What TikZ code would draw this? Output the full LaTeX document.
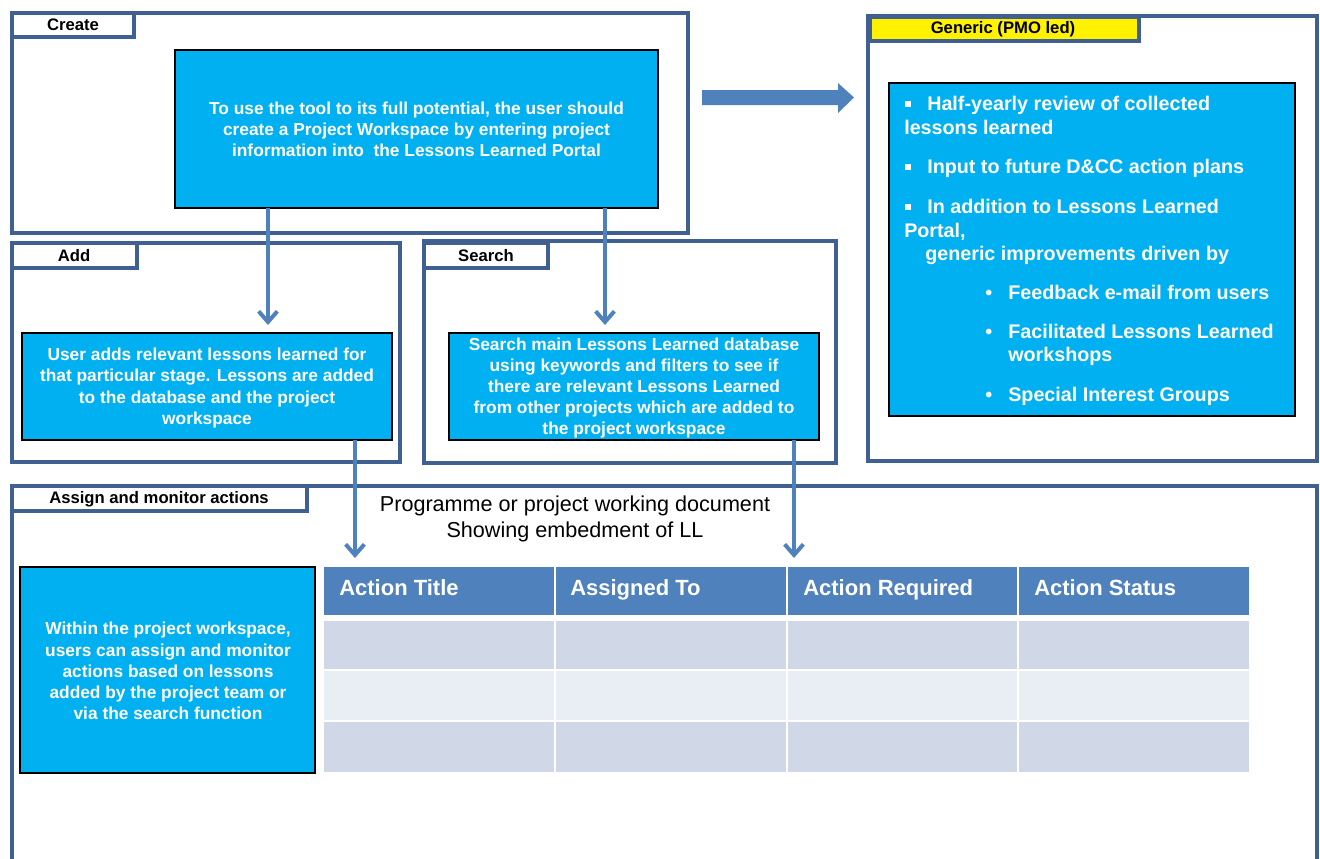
\documentclass[tikz,border=0pt]{standalone}
\usepackage{fontspec}
\setmainfont{Liberation Sans}
\usetikzlibrary{arrows.meta}
\definecolor{frame}{HTML}{3F6090}
\definecolor{cyanbox}{HTML}{00B0F0}
\definecolor{arrowc}{HTML}{4F81BD}
\definecolor{hdr}{HTML}{4F81BD}
\definecolor{rowa}{HTML}{D0D8E8}
\definecolor{rowb}{HTML}{E9EDF4}
\begin{document}
\begin{tikzpicture}[x=0.75pt,y=-0.75pt,
  framebox/.style={draw=frame,line width=2.5pt},
  tabbox/.style={draw=frame,line width=2.5pt,fill=white},
  tablabel/.style={font=\bfseries\fontsize{12.5}{14}\selectfont,text=black},
  bluebox/.style={draw=black,line width=1.3pt,fill=cyanbox},
  bluetext/.style={font=\bfseries\fontsize{13}{15.9}\selectfont,text=white,align=center},
  gentext/.style={font=\bfseries\fontsize{14.8}{17}\selectfont,text=white,anchor=base west,inner sep=0pt},
  sqbullet/.style={fill=white,minimum size=3.8pt,inner sep=0pt},
  flow/.style={draw=arrowc,line width=3pt,-{Straight Barb[length=8pt,width=14pt,line width=3pt]}},
  hdrtext/.style={font=\bfseries\fontsize{16.5}{18}\selectfont,text=white,anchor=base west,inner sep=0pt}
]
\useasboundingbox (0,0) rectangle (1320,858);

% ---------- Create ----------
\draw[framebox] (12,13) rectangle (688,233);
\draw[tabbox] (12,13) rectangle (134,37);
\node[tablabel] (tcreate) at (73,25) {Create};
\draw[bluebox] (175,50) rectangle (658,208);
\node[bluetext] (create) at (416.5,129.5) {To use the tool to its full potential, the user should\\create a Project Workspace by entering project\\information into \ the Lessons Learned Portal};
\coordinate (createA) at (268,208);
\coordinate (createB) at (605,208);

% ---------- Add ----------
\draw[framebox] (12,243) rectangle (400,462);
\draw[tabbox] (12,243) rectangle (137,268);
\node[tablabel] (tadd) at (74,256) {Add};
\draw[bluebox] (22,333) rectangle (392,440);
\node[bluetext] (add) at (207,388) {User adds relevant lessons learned for\\that particular stage. Lessons are added\\to the database and the project\\workspace};
\coordinate (addIn) at (268,325);
\coordinate (addOut) at (355,440);

% ---------- Search ----------
\draw[framebox] (424,241) rectangle (836,463);
\draw[tabbox] (424,243) rectangle (548,268);
\node[tablabel] (tsearch) at (486,256) {Search};
\draw[bluebox] (449,333) rectangle (819,440);
\node[bluetext] (search) at (634,388) {Search main Lessons Learned database\\using keywords and filters to see if\\there are relevant Lessons Learned\\from other projects which are added to\\the project workspace};
\coordinate (searchIn) at (605,325);
\coordinate (searchOut) at (794,440);

% ---------- Generic ----------
\draw[framebox] (868,16) rectangle (1317,461);
\draw[draw=frame,line width=2.5pt,fill=yellow] (870,17) rectangle (1139,41);
\node[tablabel] (tgen) at (1003,29) {Generic (PMO led)};
\draw[bluebox] (889,83) rectangle (1295,416);
\node[sqbullet] (g1b) at (908,104) {};
\node[gentext] (g1) at (927,110) {Half-yearly review of collected};
\node[gentext] (g1c) at (904,134) {lessons learned};
\node[sqbullet] (g2b) at (908,167) {};
\node[gentext] (g2) at (927,173) {Input to future D\&CC action plans};
\node[sqbullet] (g3b) at (908,207) {};
\node[gentext] (g3) at (927,213) {In addition to Lessons Learned};
\node[gentext] (g3c) at (904,237) {Portal,};
\node[gentext] (g3d) at (925,260) {generic improvements driven by};
\node[gentext] (g4b) at (985,299) {•};
\node[gentext] (g4) at (1008,299) {Feedback e-mail from users};
\node[gentext] (g5b) at (985,338) {•};
\node[gentext] (g5) at (1008,338) {Facilitated Lessons Learned};
\node[gentext] (g5c) at (1008,361) {workshops};
\node[gentext] (g6b) at (985,401) {•};
\node[gentext] (g6) at (1008,401) {Special Interest Groups};

% big arrow
\fill[arrowc] (702,90) -- (838,90) -- (838,83) -- (854,97.5) -- (838,113) -- (838,105) -- (702,105) -- cycle;

% ---------- Assign ----------
\draw[framebox] (12,870) -- (12,486) -- (1317,486) -- (1317,870);
\draw[tabbox] (12,486) rectangle (307,511);
\node[tablabel] (tassign) at (159,499) {Assign and monitor actions};
\node[font=\fontsize{16.2}{19}\selectfont,align=center] (doc) at (575,519) {Programme or project working document\\Showing embedment of LL};
\draw[bluebox] (20,567) rectangle (315,773);
\node[bluetext] (assign) at (168,671) {Within the project workspace,\\users can assign and monitor\\actions based on lessons\\added by the project team or\\via the search function};
\coordinate (assignIn) at (355,558);
\coordinate (tableIn) at (794,558);

% table
\foreach \xa/\xb in {324/554,556/786,788/1017,1019/1249}{
  \fill[hdr] (\xa,567) rectangle (\xb,615);
  \fill[rowa] (\xa,621) rectangle (\xb,669);
  \fill[rowb] (\xa,671) rectangle (\xb,720);
  \fill[rowa] (\xa,722) rectangle (\xb,772);
}
\node[hdrtext] (h1) at (339,595) {Action Title};
\node[hdrtext] (h2) at (570,595) {Assigned To};
\node[hdrtext] (h3) at (803,595) {Action Required};
\node[hdrtext] (h4) at (1034,595) {Action Status};

% connectors
\draw[flow] (createA) -- (addIn);
\draw[flow] (createB) -- (searchIn);
\draw[flow] (addOut) -- (assignIn);
\draw[flow] (searchOut) -- (tableIn);
\end{tikzpicture}
\end{document}
